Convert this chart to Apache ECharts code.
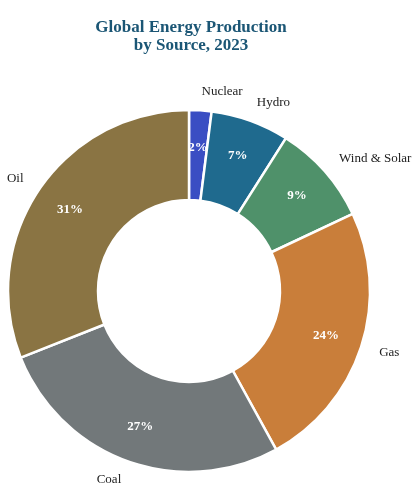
<!DOCTYPE html>
<html>
<head>
<meta charset="utf-8">
<script src="https://cdn.jsdelivr.net/npm/echarts@6/dist/echarts.min.js"></script>
<style>
  html, body { margin: 0; padding: 0; background: #ffffff; }
  #chart { width: 412px; height: 485px; }
</style>
</head>
<body>
<div id="chart"></div>
<script>
// Energy sources (clockwise from 12 o'clock) and their share of production, %
const sources = ['Nuclear', 'Hydro', 'Wind & Solar', 'Gas', 'Coal', 'Oil'];
const shares = [2, 7, 9, 24, 27, 31];
const colors = ['#3a4ec3', '#1f6a8e', '#4f916a', '#c97e3a', '#72787a', '#8a7443'];

const serif = '"Liberation Serif", "DejaVu Serif", serif';
const slices = sources.map((name, i) => ({
  name: name,
  value: shares[i],
  itemStyle: { color: colors[i] }
}));

const chart = echarts.init(document.getElementById('chart'), null, { renderer: 'canvas' });
chart.setOption({
  backgroundColor: '#ffffff',
  animation: false,
  title: {
    text: 'Global Energy Production\nby Source, 2023',
    left: 186,
    top: 14,
    textAlign: 'center',
    textStyle: {
      fontFamily: serif,
      fontWeight: 'bold',
      fontSize: 17,
      lineHeight: 18,
      color: '#1b5675'
    }
  },
  series: [
    {
      // ring with source names outside
      type: 'pie',
      center: [189, 291],
      radius: [91, 181],
      startAngle: 90,
      clockwise: true,
      avoidLabelOverlap: false,
      silent: true,
      itemStyle: { borderColor: '#ffffff', borderWidth: 2.5 },
      label: {
        show: true,
        position: 'outside',
        formatter: '{b}',
        fontFamily: serif,
        fontSize: 13,
        color: '#222222',
        distanceToLabelLine: 0
      },
      labelLine: { show: false, length: 19, length2: 0 },
      data: slices
    },
    {
      // transparent overlay carrying the percentage labels
      type: 'pie',
      center: [189, 291],
      radius: [101, 181],
      startAngle: 90,
      clockwise: true,
      avoidLabelOverlap: false,
      silent: true,
      itemStyle: { color: 'rgba(0,0,0,0)', borderWidth: 0 },
      label: {
        show: true,
        position: 'inside',
        formatter: '{c}%',
        fontFamily: serif,
        fontWeight: 'bold',
        fontSize: 13,
        color: '#ffffff'
      },
      labelLine: { show: false },
      data: sources.map((name, i) => ({ name: name, value: shares[i] }))
    }
  ]
});
</script>
</body>
</html>
